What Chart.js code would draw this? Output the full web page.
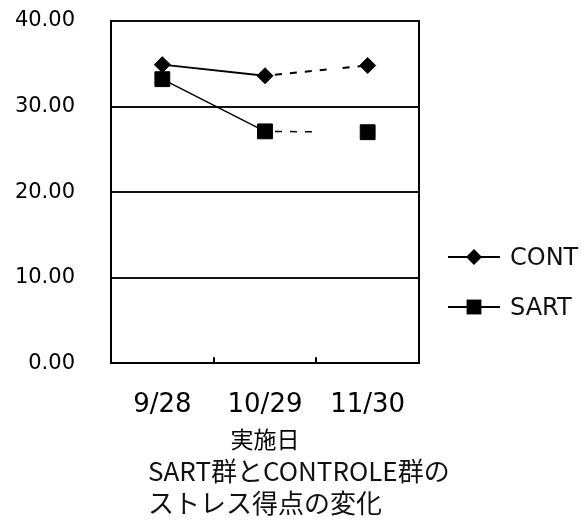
<!DOCTYPE html>
<html lang="ja">
<head>
<meta charset="utf-8">
<title>SART群とCONTROLE群のストレス得点の変化</title>
<script src="https://cdn.jsdelivr.net/npm/chart.js@4.4.1/dist/chart.umd.min.js"></script>
<style>
  body { margin: 0; background: #fff; }
  #wrap { position: relative; width: 585px; height: 522px; }
  #caption {
    position: absolute; left: 148px; top: 454px;
    font: 26px/32px "Noto Sans CJK JP", sans-serif; color: #111; white-space: nowrap;
  }
  #legend { position: absolute; left: 448px; top: 232px; }
  #legend .item {
    display: flex; align-items: center; height: 50px;
    font: 24px "DejaVu Sans", sans-serif; color: #111;
  }
  #legend canvas { margin-right: 10px; }
</style>
</head>
<body>
<div id="wrap">
  <canvas id="chart" width="585" height="522"></canvas>
  <div id="legend"></div>
  <div id="caption">SART群とCONTROLE群の<br>ストレス得点の変化</div>
</div>
<script>
const dates = ['9/28', '10/29', '11/30'];
const contScores = [34.9, 33.6, 34.8];
const sartScores = [33.2, 27.1, 27.0];
const yTicks = [0, 10, 20, 30, 40];

// dotted lines after the first survey (with the gaps seen in the original)
const contDots = [7, 8, 7, 8, 7, 8, 7, 8, 7, 16, 7, 8, 7, 50];
const sartDots = [7, 8, 7, 8, 7, 8, 7, 300];

const font = 'DejaVu Sans';

// legend symbol: short line with the marker in the middle
function legendIcon(style, r) {
  const c = document.createElement('canvas');
  c.width = 52; c.height = 24;
  const g = c.getContext('2d');
  g.strokeStyle = '#000';
  g.lineWidth = 2;
  g.beginPath(); g.moveTo(0, 12); g.lineTo(52, 12); g.stroke();
  g.fillStyle = '#000';
  g.beginPath();
  if (style === 'rectRot') {
    g.moveTo(26 - r, 12); g.lineTo(26, 12 - r); g.lineTo(26 + r, 12); g.lineTo(26, 12 + r);
  } else {
    const s = r * Math.SQRT1_2;
    g.rect(26 - s, 12 - s, 2 * s, 2 * s);
  }
  g.closePath(); g.fill();
  return c;
}

const chart = new Chart(document.getElementById('chart'), {
  type: 'line',
  data: {
    labels: dates,
    datasets: [
      {
        label: 'CONT',
        data: contScores,
        borderColor: '#000',
        borderWidth: 2,
        pointStyle: 'rectRot',
        pointRadius: 8,
        pointBackgroundColor: '#000',
        pointBorderColor: '#000',
        pointBorderWidth: 1,
        segment: {
          borderDash: ctx => ctx.p0DataIndex >= 1 ? contDots : undefined,
          borderDashOffset: ctx => ctx.p0DataIndex >= 1 ? 5 : undefined
        }
      },
      {
        label: 'SART',
        data: sartScores,
        borderColor: '#000',
        borderWidth: 1.5,
        pointStyle: 'rect',
        pointRadius: 10.5,
        pointBackgroundColor: '#000',
        pointBorderColor: '#000',
        pointBorderWidth: 1,
        segment: {
          borderDash: ctx => ctx.p0DataIndex >= 1 ? sartDots : undefined,
          borderDashOffset: ctx => ctx.p0DataIndex >= 1 ? 5 : undefined
        }
      }
    ]
  },
  options: {
    responsive: false,
    animation: false,
    layout: { padding: { top: 21, right: 166, bottom: 69, left: 0 } },
    plugins: {
      tooltip: { enabled: false },
      legend: { display: false }
    },
    scales: {
      x: {
        offset: true,
        grid: { offset: true, drawOnChartArea: false, drawTicks: true, tickLength: -6, color: '#000', lineWidth: 2 },
        border: { color: '#000', width: 2 },
        ticks: { padding: 32, color: '#000', font: { family: font, size: 26 } },
        title: {
          display: true, text: '実施日', color: '#000',
          font: { family: 'Noto Sans CJK JP', size: 23 },
          padding: { top: -27, bottom: 0 }
        }
      },
      y: {
        min: 0,
        max: 40,
        afterBuildTicks: s => { s.ticks = yTicks.map(v => ({ value: v })); },
        afterFit: s => { s.width = 111; s.paddingTop = 0; s.paddingBottom = 0; },
        grid: { color: '#111', lineWidth: 2, drawTicks: false },
        border: { color: '#000', width: 2 },
        ticks: { padding: 36, color: '#000', font: { family: font, size: 21 }, callback: v => v.toFixed(2) }
      },
      // right edge of the plot box
      y2: {
        position: 'right',
        display: true,
        afterFit: s => { s.width = 0; },
        grid: { drawOnChartArea: false, drawTicks: false },
        border: { color: '#000', width: 2 },
        ticks: { display: false }
      }
    }
  }
});

// legend built from the datasets
const legend = document.getElementById('legend');
chart.data.datasets.forEach(ds => {
  const item = document.createElement('div');
  item.className = 'item';
  item.appendChild(legendIcon(ds.pointStyle, ds.pointRadius));
  item.appendChild(document.createTextNode(ds.label));
  legend.appendChild(item);
});
</script>
</body>
</html>
